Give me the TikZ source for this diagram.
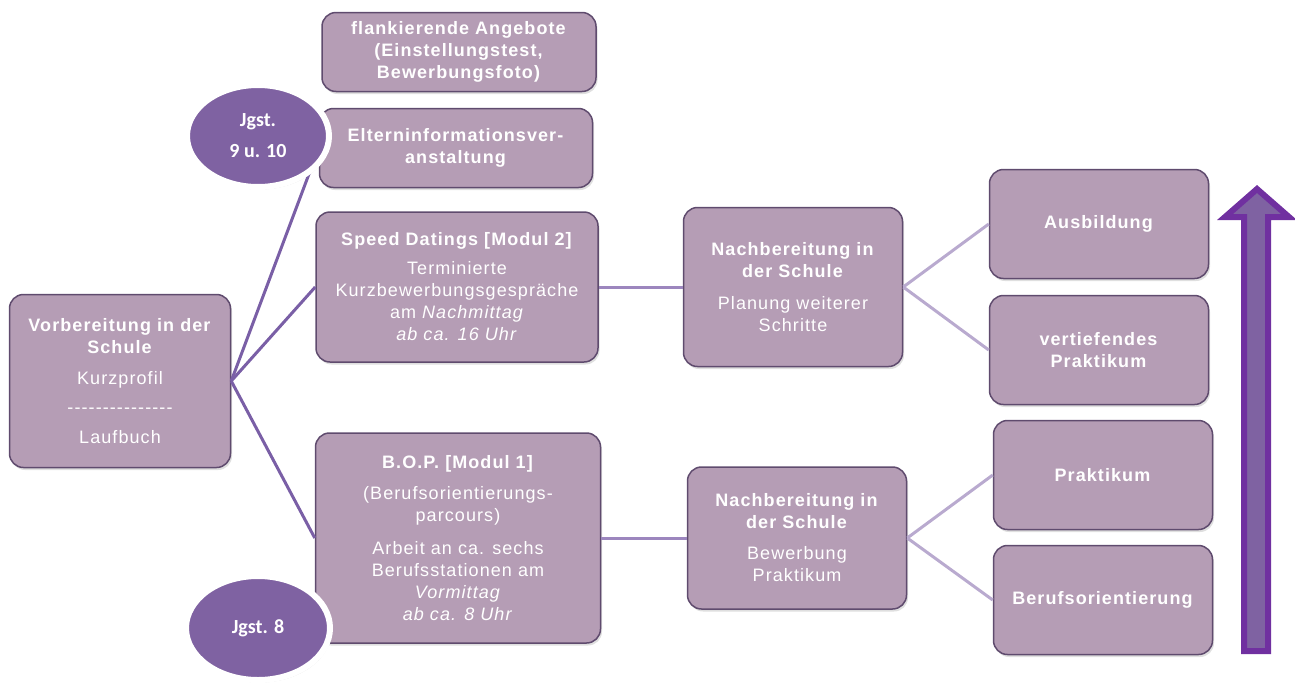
\documentclass[tikz,border=0pt]{standalone}
\usepackage{fontspec}
\newfontfamily\diafont{Liberation Sans}[LetterSpace=6]
\newfontfamily\jgstfont{Carlito}
\usetikzlibrary{shadows,shapes.geometric}

\definecolor{boxfill}{HTML}{B59DB5}
\definecolor{boxline}{HTML}{5F4B6E}
\definecolor{rootline}{HTML}{7A5FA6}
\definecolor{midline}{HTML}{9C86BE}
\definecolor{leafline}{HTML}{B9AACF}
\definecolor{jgstfill}{HTML}{7F62A2}
\definecolor{arrowline}{HTML}{7030A0}

\begin{document}
\begin{tikzpicture}[x=1pt, y=-1pt,
  stepbox/.style={draw=boxline, line width=1.5pt, fill=boxfill, rounded corners=14pt,
    text=white, align=center, inner sep=0pt,
    font=\diafont\fontsize{18}{22}\selectfont,
    drop shadow={shadow xshift=1.5pt, shadow yshift=-2.5pt, opacity=.25}},
  jgst/.style={ellipse, draw=white, line width=6pt, fill=jgstfill, text=white,
    align=center, inner sep=0pt, font=\jgstfont\bfseries\fontsize{20}{31}\selectfont,
    drop shadow={shadow xshift=1.5pt, shadow yshift=-2.5pt, opacity=.3}},
  link/.style={line width=3pt}]
\useasboundingbox (0,0) rectangle (1295,683);
%
             \node [stepbox, minimum width=221pt, minimum height=173pt] at (120,381) (vorb)
                  {\textbf{Vorbereitung in der}\\\textbf{Schule}\\[9pt]Kurzprofil\\[7pt]---------------\\[8pt]Laufbuch};
              \node [stepbox, minimum width=274pt, minimum height=79pt] at (459,52) (flank)
                  {\textbf{flankierende Angebote}\\\textbf{(Einstellungstest,}\\\textbf{Bewerbungsfoto)}};
              \node [stepbox, minimum width=273pt, minimum height=79pt] at (456,148) (eltern)
                  {\textbf{Elterninformationsver-}\\\textbf{anstaltung}};
              \node [stepbox, minimum width=282pt, minimum height=150pt] at (457,287) (speed)
                  {\textbf{Speed Datings [Modul 2]}\\[7pt]Terminierte\\Kurzbewerbungsgespräche\\am \textit{Nachmittag}\\\textit{ab ca. 16 Uhr}};
              \node [stepbox, minimum width=285pt, minimum height=210pt] at (458,538) (bop)
                  {\textbf{B.O.P. [Modul 1]}\\[9pt](Berufsorientierungs-\\parcours)\\[11pt]Arbeit an ca. sechs\\Berufsstationen am\\\textit{Vormittag}\\\textit{ab ca. 8 Uhr}};
              \node [stepbox, minimum width=219pt, minimum height=159pt] at (793,287) (nach1)
                  {\textbf{Nachbereitung in}\\\textbf{der Schule}\\[10pt]Planung weiterer\\Schritte};
              \node [stepbox, minimum width=219pt, minimum height=142pt] at (797,538) (nach2)
                  {\textbf{Nachbereitung in}\\\textbf{der Schule}\\[9pt]Bewerbung\\Praktikum};
              \node [stepbox, minimum width=219pt, minimum height=109pt] at (1099,224) (ausb)
                  {\textbf{Ausbildung}};
              \node [stepbox, minimum width=219pt, minimum height=109pt] at (1099,350) (vert)
                  {\textbf{vertiefendes}\\\textbf{Praktikum}};
              \node [stepbox, minimum width=219pt, minimum height=109pt] at (1103,475) (prakt)
                  {\textbf{Praktikum}};
              \node [stepbox, minimum width=219pt, minimum height=109pt] at (1103,600) (berufs)
                  {\textbf{Berufsorientierung}};
%
\draw[link, rootline] (vorb.east) -- (eltern.west);
\draw[link, rootline] (vorb.east) -- (speed.west);
\draw[link, rootline] (vorb.east) -- (bop.west);
\draw[link, midline] (speed.east) -- (nach1.west);
\draw[link, midline] (bop.east) -- (nach2.west);
\draw[link, leafline] (nach1.east) -- (ausb.west);
\draw[link, leafline] (nach1.east) -- (vert.west);
\draw[link, leafline] (nach2.east) -- (prakt.west);
\draw[link, leafline] (nach2.east) -- (berufs.west);
%
                           \node [jgst, minimum width=142pt, minimum height=102pt] at (258,136) (jgst910) {Jgst.\\9 u. 10};
                           \node [jgst, minimum width=144pt, minimum height=104pt] at (258,628) (jgst8) {Jgst. 8};
%
\draw[draw=arrowline, line width=6pt, fill=jgstfill, line join=miter]
  (1257,189) -- (1289,217) -- (1268,217) -- (1268,651) -- (1244,651) -- (1244,217) -- (1225,217) -- cycle;
\end{tikzpicture}
\end{document}
